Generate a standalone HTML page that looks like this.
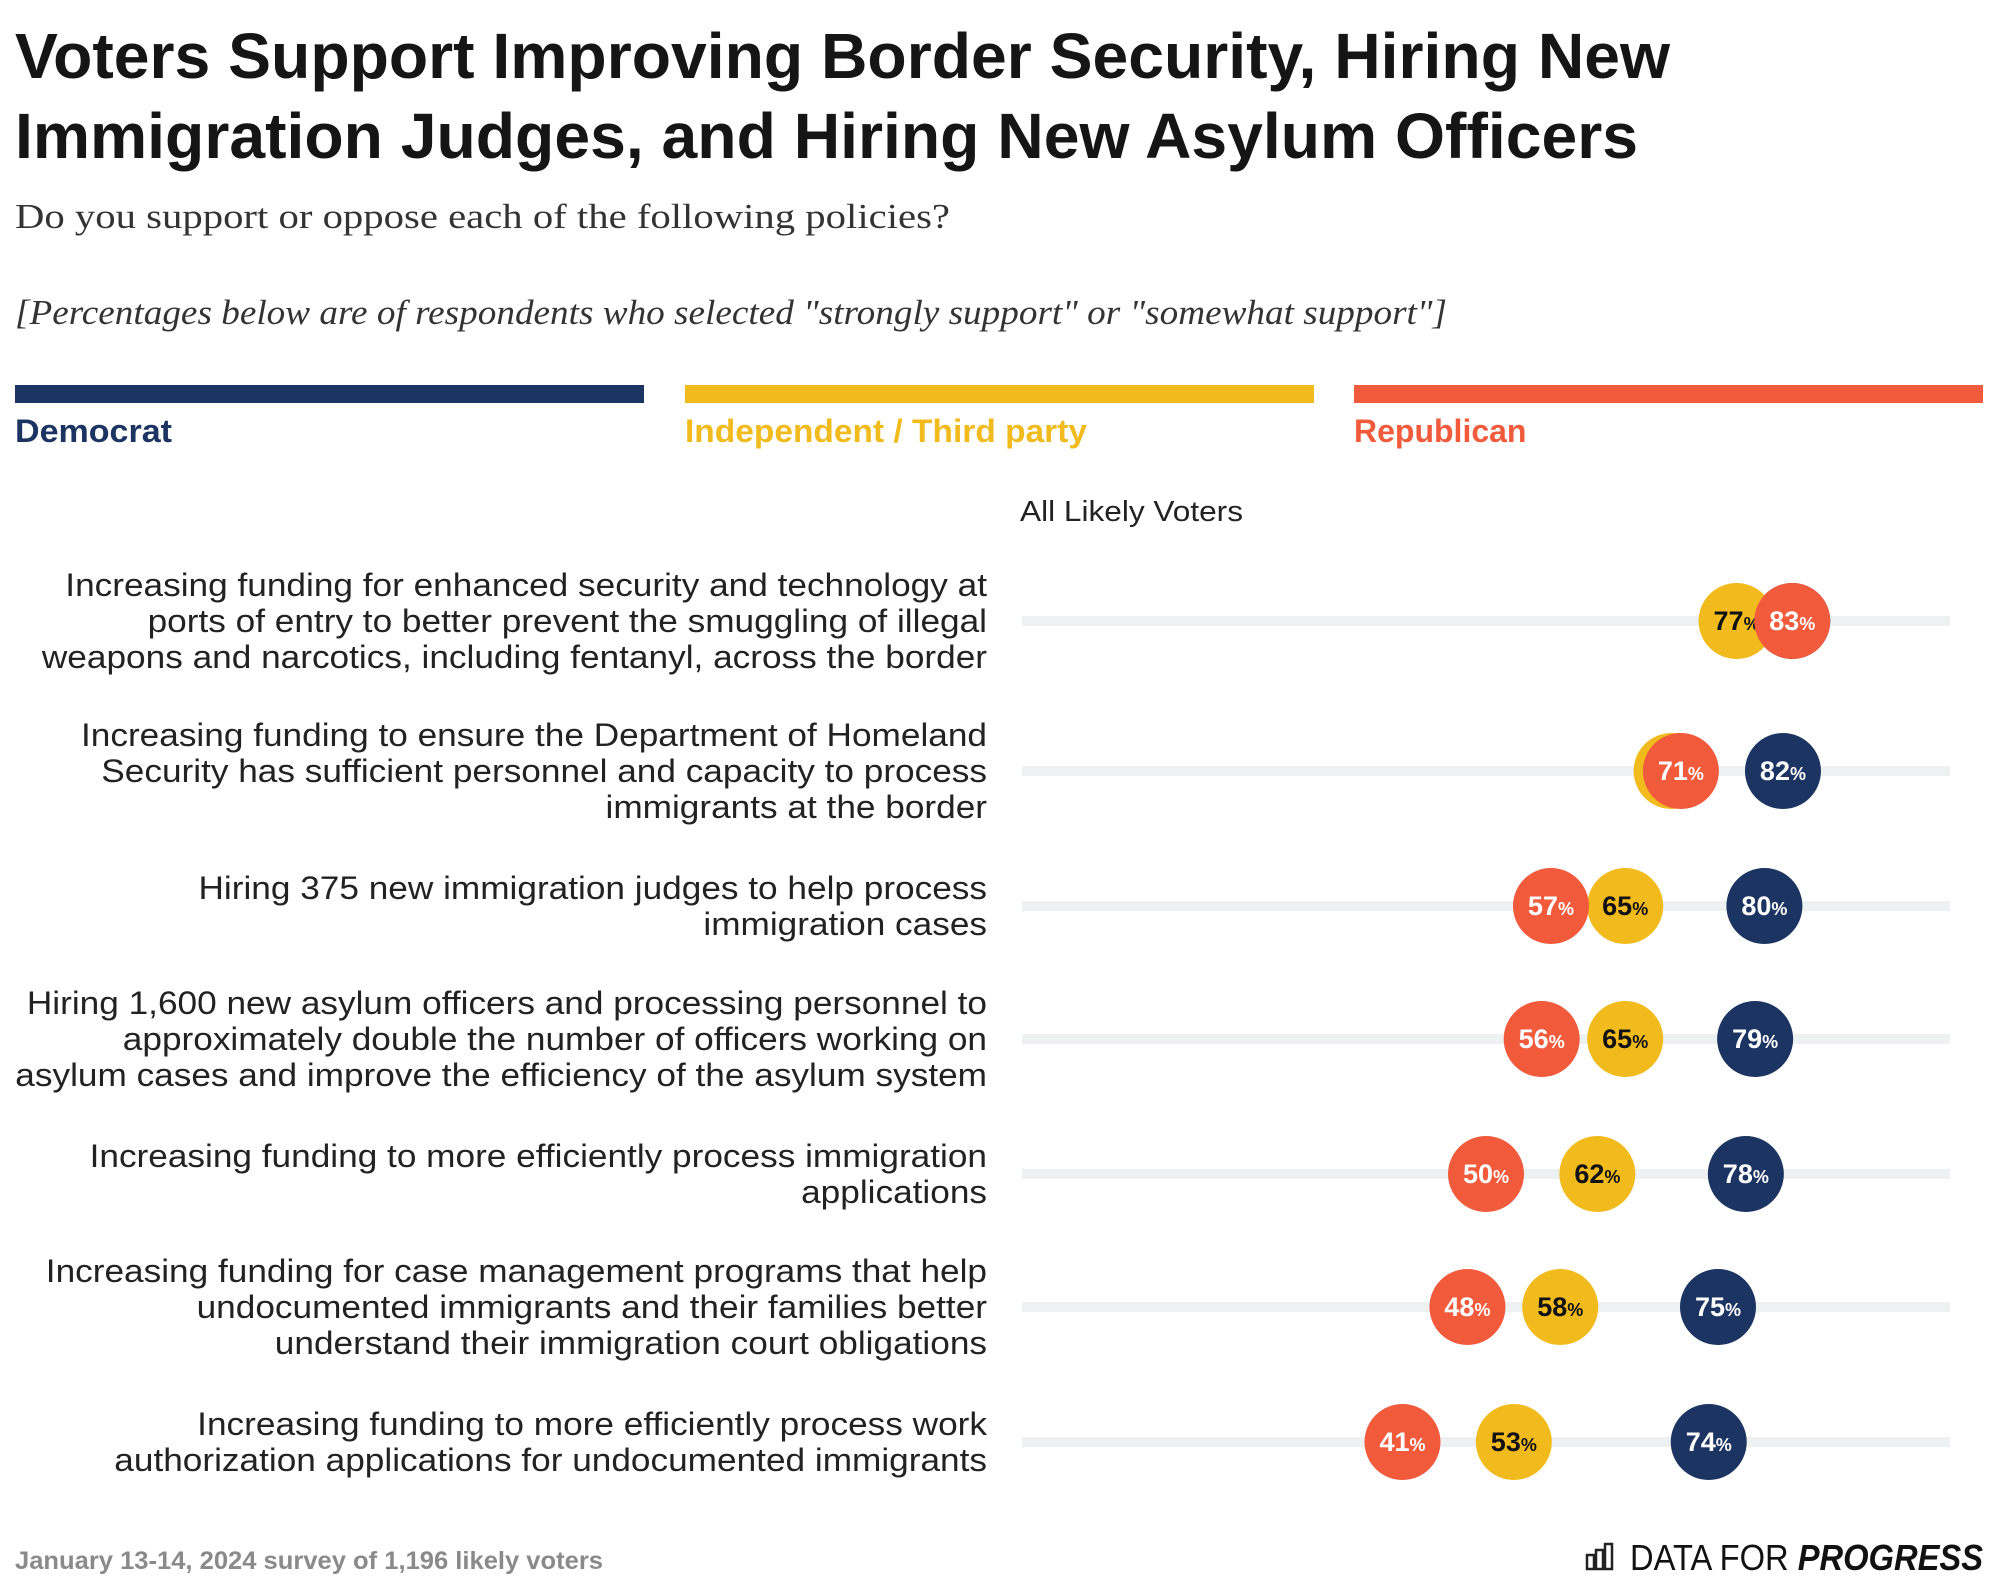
<!DOCTYPE html>
<html><head><meta charset="utf-8"><style>
html,body{margin:0;padding:0;background:#fff}
svg{display:block}
text{font-family:"Liberation Sans",sans-serif}
</style></head><body>
<svg id="chart" width="1999" height="1593" viewBox="0 0 1999 1593" xmlns="http://www.w3.org/2000/svg">
<text x="15" y="78" font-size="64" font-weight="bold" fill="#151515" textLength="1655" lengthAdjust="spacingAndGlyphs">Voters Support Improving Border Security, Hiring New</text>
<text x="15" y="158" font-size="64" font-weight="bold" fill="#151515" textLength="1623" lengthAdjust="spacingAndGlyphs">Immigration Judges, and Hiring New Asylum Officers</text>
<text x="15" y="228" font-size="35" fill="#333" style="font-family:'Liberation Serif',serif" textLength="935" lengthAdjust="spacingAndGlyphs">Do you support or oppose each of the following policies?</text>
<text x="15" y="324" font-size="35" font-style="italic" fill="#333" style="font-family:'Liberation Serif',serif" textLength="1432" lengthAdjust="spacingAndGlyphs">[Percentages below are of respondents who selected "strongly support" or "somewhat support"]</text>
<g>
<rect x="15" y="385" width="629" height="18" fill="#1c3461"/>
<rect x="685" y="385" width="629" height="18" fill="#f2bb1d"/>
<rect x="1354" y="385" width="629" height="18" fill="#f25a3c"/>
<text x="15" y="442" font-size="32" font-weight="bold" fill="#1c3461" textLength="157" lengthAdjust="spacingAndGlyphs">Democrat</text>
<text x="685" y="442" font-size="32" font-weight="bold" fill="#f2bb1d" textLength="402" lengthAdjust="spacingAndGlyphs">Independent / Third party</text>
<text x="1354" y="442" font-size="32" font-weight="bold" fill="#f25a3c">Republican</text>
</g>
<text x="1020" y="521" font-size="29" fill="#222" textLength="223" lengthAdjust="spacingAndGlyphs">All Likely Voters</text>
<g id="rows"></g>
<text x="15" y="1569" font-size="25" font-weight="bold" fill="#8a8a8a" textLength="588" lengthAdjust="spacingAndGlyphs">January 13-14, 2024 survey of 1,196 likely voters</text>
<g>
<g fill="none" stroke="#222" stroke-width="2.5">
<rect x="1587" y="1555" width="7" height="14"/><rect x="1596" y="1550" width="7" height="19"/><rect x="1605" y="1544" width="7" height="25"/>
</g>
<text x="1630" y="1570" font-size="36" fill="#111" textLength="353" lengthAdjust="spacingAndGlyphs">DATA FOR <tspan font-weight="bold" font-style="italic">PROGRESS</tspan></text>
</g>
</svg>
<script>
const labels = [
 ["Increasing funding for enhanced security and technology at","ports of entry to better prevent the smuggling of illegal","weapons and narcotics, including fentanyl, across the border"],
 ["Increasing funding to ensure the Department of Homeland","Security has sufficient personnel and capacity to process","immigrants at the border"],
 ["Hiring 375 new immigration judges to help process","immigration cases"],
 ["Hiring 1,600 new asylum officers and processing personnel to","approximately double the number of officers working on","asylum cases and improve the efficiency of the asylum system"],
 ["Increasing funding to more efficiently process immigration","applications"],
 ["Increasing funding for case management programs that help","undocumented immigrants and their families better","understand their immigration court obligations"],
 ["Increasing funding to more efficiently process work","authorization applications for undocumented immigrants"]
];
const democrat = [83, 82, 80, 79, 78, 75, 74];
const independent = [77, 70, 65, 65, 62, 58, 53];
const republican = [83, 71, 57, 56, 50, 48, 41];

const NS = "http://www.w3.org/2000/svg";
const x0 = 1022, x1 = 1950;
const xScale = v => x0 + (x1 - x0) * v / 100;
const rowY = [621, 771, 906, 1039, 1174, 1307, 1442];
const yScale = i => rowY[i];
const g = document.getElementById('rows');
function mk(tag, attrs){ const e = document.createElementNS(NS, tag); for (const k in attrs) e.setAttribute(k, attrs[k]); return e; }
const series = [
 {name:'democrat', vals: democrat, fill:'#1c3461', txt:'#fff'},
 {name:'independent', vals: independent, fill:'#f2bb1d', txt:'#111'},
 {name:'republican', vals: republican, fill:'#f25a3c', txt:'#fff'}
];
labels.forEach((lines, i) => {
  const y = yScale(i);
  const lh = 36;
  const top = y - (lines.length - 1) * lh / 2 + 11;
  lines.forEach((ln, j) => {
    const t = mk('text', {x: 987, y: top + j * lh, 'font-size': 32, fill: '#222', 'text-anchor': 'end'});
    
    
    t.textContent = ln;
    g.appendChild(t);
    const w = t.getComputedTextLength();
    if (w > 0) { t.setAttribute('textLength', (w * 1.1).toFixed(1)); t.setAttribute('lengthAdjust', 'spacingAndGlyphs'); }
  });
  const track = mk('rect', {x: x0, y: y - 5, width: x1 - x0, height: 10, fill: '#eef1f2'});
  
  
  g.appendChild(track);
  series.forEach(s => {
    const v = s.vals[i];
    const cx = xScale(v);
    const c = mk('circle', {cx: cx, cy: y, r: 38, fill: s.fill});
    
    
    g.appendChild(c);
    const t = mk('text', {x: cx, y: y + 9, 'font-size': 27, 'font-weight': 'bold', fill: s.txt, 'text-anchor': 'middle'});
    
    
    t.textContent = v;
    const p = mk('tspan', {'font-size': 18});
    p.textContent = '%';
    t.appendChild(p);
    g.appendChild(t);
  });
});
</script>
</body></html>
